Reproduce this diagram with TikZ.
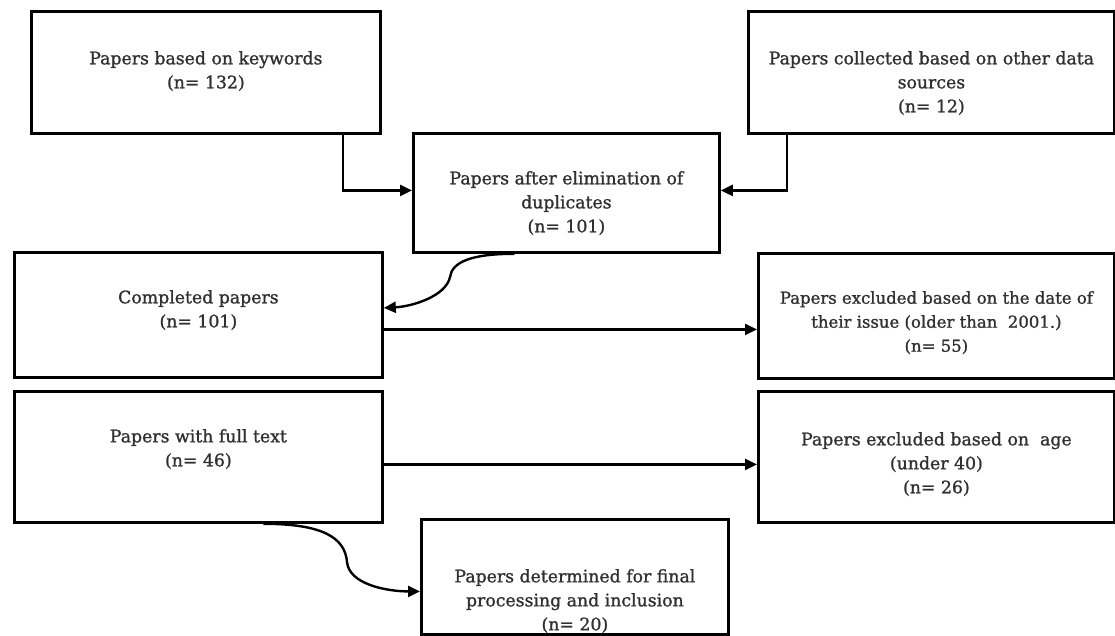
\documentclass[tikz,border=0pt]{standalone}
\usepackage{fontspec}
\setmainfont{DejaVu Serif}[FakeBold=1.2]
\usetikzlibrary{arrows.meta}
\definecolor{txtc}{HTML}{303030}
\begin{document}
\begin{tikzpicture}[x=1pt,y=-1pt,
  box/.style={draw=black, line width=2.8pt, inner sep=0pt, anchor=north west},
  txt/.style={text=txtc, font=\fontsize{17.3}{24}\selectfont, align=center, inner sep=0pt, anchor=north},
  arr/.style={draw=black, line width=2.4pt, -{Triangle[length=12pt,width=11pt]}}]
\useasboundingbox (0,0) rectangle (1115,635);
% boxes
\node[box, minimum width=349pt, minimum height=122pt] (b1) at (30,10) {};
\node[box, minimum width=366pt, minimum height=122pt] (b2) at (747,10) {};
\node[box, minimum width=306pt, minimum height=119pt] (b3) at (412,132) {};
\node[box, minimum width=368pt, minimum height=125pt] (b4) at (13,251) {};
\node[box, minimum width=356pt, minimum height=125pt] (b5) at (757,252) {};
\node[box, minimum width=368pt, minimum height=131pt] (b6) at (13,390) {};
\node[box, minimum width=356pt, minimum height=131pt] (b7) at (757,390) {};
\node[box, minimum width=307pt, minimum height=115pt] (b8) at (420,518) {};
% texts
\node[txt] (t1) at ([yshift=-41pt]b1.north) {Papers based on keywords\\(n= 132)};
\node[txt] (t2) at ([yshift=-41pt]b2.north) {Papers collected based on other data\\sources\\(n= 12)};
\node[txt] (t3) at ([yshift=-39pt]b3.north) {Papers after elimination of\\duplicates\\(n= 101)};
\node[txt] (t4) at ([yshift=-39pt]b4.north) {Completed papers\\(n= 101)};
\node[txt, font=\fontsize{16.5}{24}\selectfont] (t5) at ([yshift=-39pt]b5.north) {Papers excluded based on the date of\\their issue (older than\ \ 2001.)\\(n= 55)};
\node[txt] (t6) at ([yshift=-39pt]b6.north) {Papers with full text\\(n= 46)};
\node[txt] (t7) at ([yshift=-42pt]b7.north) {Papers excluded based on\ \ age\\(under 40)\\(n= 26)};
\node[txt] (t8) at ([yshift=-51pt]b8.north) {Papers determined for final\\processing and inclusion\\(n= 20)};
% connectors
\draw[arr] ([xshift=-39pt]b1.south east) |- ([yshift=2.5pt]b3.west);
\draw[arr] ([xshift=40pt]b2.south west) |- ([yshift=2.5pt]b3.east);
\coordinate (m1) at (450,277);
\draw[arr] ([xshift=-52pt]b3.south) .. controls +(-43,0) and +(2,-15) .. (m1)
   .. controls +(-4,19) and +(29,-1.5) .. ([yshift=7pt]b4.east);
\draw[arr] ([yshift=-14.5pt]b4.east) -- ([yshift=-14.5pt]b4.east -| b5.west);
\draw[arr] ([yshift=-7.5pt]b6.east) -- ([yshift=-7.5pt]b6.east -| b7.west);
\coordinate (m2) at (347,562);
\draw[arr] ([xshift=65pt]b6.south) .. controls +(58,0) and +(-2,-25) .. (m2)
   .. controls +(2,22) and +(-34,0) .. ([yshift=-14.5pt]b8.west);
\end{tikzpicture}
\end{document}
